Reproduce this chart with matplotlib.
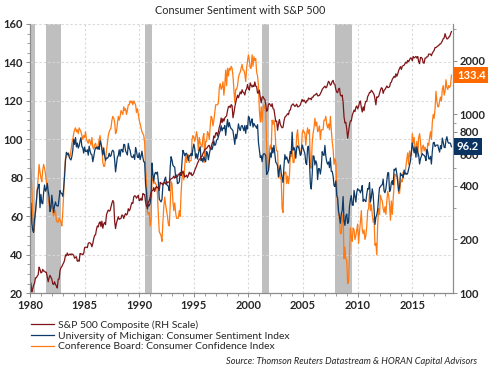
import numpy as np
import matplotlib
matplotlib.use('Agg')
import matplotlib.pyplot as plt
from matplotlib.ticker import MultipleLocator, FixedLocator, FixedFormatter, NullFormatter
from matplotlib.transforms import blended_transform_factory

plt.rcParams['font.family'] = ['Lato', 'DejaVu Sans']

START_YEAR = 1980

# monthly values, Jan 1980 - Aug 2018
umich = [
    67.0, 66.9, 56.5, 52.7, 51.7, 58.7, 62.3, 67.3, 73.7, 75.0, 76.7, 64.5,
    71.4, 66.9, 66.5, 72.4, 76.3, 73.1, 74.1, 77.2, 73.1, 70.3, 62.5, 64.3,
    71.0, 66.5, 62.0, 65.5, 67.5, 65.7, 65.4, 65.4, 69.3, 73.4, 72.1, 71.9,
    70.4, 74.6, 80.8, 89.1, 93.3, 92.2, 92.8, 90.9, 89.9, 89.3, 91.1, 94.2,
    100.1, 97.4, 101.0, 96.1, 98.1, 95.5, 96.6, 99.1, 100.9, 96.3, 95.7, 92.9,
    96.0, 93.7, 93.7, 94.6, 91.8, 96.5, 94.0, 92.4, 92.1, 88.4, 90.9, 93.9,
    95.6, 95.9, 95.1, 96.2, 94.8, 99.3, 97.7, 94.9, 91.9, 95.6, 91.4, 89.1,
    90.4, 90.2, 90.8, 92.8, 91.1, 91.5, 93.7, 94.4, 93.6, 89.3, 83.1, 86.8,
    90.8, 91.6, 94.6, 91.2, 94.8, 94.7, 93.4, 97.4, 97.3, 94.1, 93.0, 91.9,
    97.9, 95.4, 94.3, 91.5, 90.7, 90.6, 92.0, 89.6, 95.8, 93.9, 90.9, 90.5,
    93.0, 89.5, 91.3, 93.9, 90.6, 88.3, 88.2, 76.4, 72.8, 63.9, 66.0, 65.5,
    66.8, 70.4, 87.7, 81.8, 78.3, 82.1, 82.9, 82.0, 83.0, 78.3, 69.1, 68.2,
    67.5, 68.8, 76.0, 77.2, 79.2, 80.4, 76.6, 76.1, 75.6, 73.3, 85.3, 91.0,
    89.3, 86.6, 85.9, 85.6, 80.3, 81.5, 77.0, 77.3, 77.9, 82.7, 81.2, 88.2,
    94.3, 93.2, 91.5, 92.6, 92.8, 91.2, 89.0, 91.7, 91.5, 92.7, 91.6, 95.1,
    97.6, 95.1, 90.3, 92.5, 89.8, 92.7, 94.4, 96.2, 88.9, 90.2, 88.2, 91.0,
    89.3, 88.5, 93.7, 92.7, 89.4, 92.4, 94.7, 95.3, 94.7, 96.5, 99.2, 96.9,
    97.4, 99.7, 100.0, 101.4, 103.2, 104.5, 107.1, 104.4, 106.0, 105.6, 107.2, 102.1,
    106.6, 110.4, 106.5, 108.7, 106.5, 105.6, 105.2, 104.4, 100.9, 97.4, 102.7, 100.5,
    103.9, 108.1, 105.7, 104.6, 106.8, 107.3, 106.0, 104.5, 107.2, 103.2, 107.2, 105.4,
    112.0, 111.3, 107.1, 109.2, 110.7, 106.4, 108.3, 107.3, 106.8, 105.8, 107.6, 98.4,
    94.7, 90.6, 91.5, 88.4, 92.0, 92.6, 92.4, 91.5, 81.8, 82.7, 83.9, 88.8,
    93.0, 90.7, 95.7, 93.0, 96.9, 92.4, 88.1, 87.6, 86.1, 80.6, 84.2, 86.7,
    82.4, 79.9, 77.6, 86.0, 92.1, 89.7, 90.9, 89.3, 87.7, 89.6, 93.7, 92.6,
    103.8, 94.4, 95.8, 94.2, 90.2, 95.6, 96.7, 95.9, 94.2, 91.7, 92.8, 97.1,
    95.5, 94.1, 92.6, 87.7, 86.9, 96.0, 96.5, 89.1, 76.9, 74.2, 81.6, 91.5,
    91.2, 86.7, 88.9, 87.4, 79.1, 84.9, 84.7, 82.0, 85.4, 93.6, 92.1, 91.7,
    96.9, 91.3, 88.4, 87.1, 88.3, 85.3, 90.4, 83.4, 83.4, 80.9, 76.1, 75.5,
    78.4, 70.8, 69.5, 62.6, 59.8, 56.4, 61.2, 63.0, 70.3, 57.6, 55.3, 60.1,
    61.2, 56.3, 57.3, 65.1, 68.7, 70.8, 66.0, 65.7, 73.5, 70.6, 67.4, 72.5,
    74.4, 73.6, 73.6, 72.2, 73.6, 76.0, 67.8, 68.9, 68.2, 67.7, 71.6, 74.5,
    74.2, 77.5, 67.5, 69.8, 74.3, 71.5, 63.7, 55.8, 59.5, 60.8, 63.7, 69.9,
    75.0, 75.3, 76.2, 76.4, 79.3, 73.2, 72.3, 74.3, 78.3, 82.6, 82.7, 72.9,
    73.8, 77.6, 78.6, 76.4, 84.5, 84.1, 85.1, 82.1, 77.5, 73.2, 75.1, 82.5,
    81.2, 81.6, 80.0, 84.1, 81.9, 82.5, 81.8, 82.5, 84.6, 86.9, 88.8, 93.6,
    98.1, 95.4, 93.0, 95.9, 90.7, 96.1, 93.1, 91.9, 87.2, 90.0, 91.3, 92.6,
    92.0, 91.7, 91.0, 89.0, 94.7, 93.5, 90.0, 89.8, 91.2, 87.2, 93.8, 98.2,
    98.5, 96.3, 96.9, 97.0, 97.1, 95.0, 93.4, 96.8, 95.1, 100.7, 98.5, 95.9,
    95.7, 99.7, 101.4, 98.8, 98.0, 98.2, 97.9, 96.2,
]

conf_board = [
    87, 84, 74, 62, 52, 55, 62, 68, 74, 80, 87, 83,
    80, 78, 84, 87, 85, 82, 78, 74, 69, 66, 64, 66,
    65, 63, 60, 62, 63, 58, 57, 57, 59, 58, 57, 55,
    62, 72, 84, 90, 91, 92, 93, 92, 91, 94, 98, 100,
    103, 105, 106, 104, 105, 103, 106, 105, 104, 102, 100, 102,
    101, 104, 100, 99, 98, 100, 99, 97, 101, 96, 95, 97,
    98, 96, 95, 97, 100, 102, 98, 96, 88, 86, 86, 90,
    94, 98, 102, 104, 105, 106, 110, 112, 111, 109, 103, 104,
    108, 112, 110, 112, 115, 114, 113, 117, 115, 116, 113, 115,
    118, 118, 120, 119, 120, 118, 120, 119, 118, 114, 116, 113,
    110, 108, 106, 104, 103, 102, 98, 84, 78, 62, 61, 62,
    55, 58, 80, 80, 77, 78, 77, 76, 72, 61, 52, 51,
    50, 47, 57, 65, 70, 66, 63, 60, 56, 55, 65, 78,
    77, 68, 63, 67, 62, 59, 59, 59, 63, 60, 72, 80,
    82, 79, 86, 92, 88, 92, 92, 88, 89, 89, 100, 102,
    101, 99, 101, 104, 101, 94, 101, 98, 97, 96, 101, 103,
    88, 99, 99, 104, 103, 100, 107, 112, 111, 107, 110, 114,
    118, 118, 118, 119, 127, 129, 126, 127, 130, 123, 128, 136,
    128, 137, 133, 137, 136, 138, 137, 133, 126, 119, 126, 126,
    128, 132, 134, 135, 137, 139, 136, 136, 134, 130, 137, 141,
    144, 141, 137, 137, 144, 138, 143, 141, 142, 135, 133, 128,
    115, 109, 117, 109, 116, 118, 116, 114, 97, 85, 84, 94,
    97, 95, 110, 108, 110, 106, 97, 94, 94, 80, 84, 80,
    79, 64, 62, 81, 83, 83, 77, 81, 77, 81, 92, 91,
    97, 88, 88, 93, 93, 102, 105, 98, 96, 92, 92, 103,
    105, 104, 103, 97, 103, 106, 103, 105, 87, 85, 98, 103,
    106, 111, 107, 109, 104, 105, 107, 100, 105, 105, 105, 110,
    110, 112, 108, 106, 108, 105, 112, 105, 99, 95, 87, 90,
    88, 76, 65, 62, 58, 51, 51, 58, 61, 38, 44, 38,
    37, 25, 26, 40, 54, 49, 47, 54, 53, 48, 50, 53,
    56, 46, 52, 57, 63, 53, 51, 53, 48, 50, 55, 63,
    64, 72, 63, 66, 61, 57, 59, 45, 46, 40, 56, 64,
    61, 71, 69, 68, 64, 62, 65, 61, 68, 73, 71, 66,
    58, 68, 61, 69, 76, 82, 81, 81, 80, 72, 72, 77,
    79, 78, 83, 82, 82, 86, 90, 93, 87, 94, 91, 93,
    103, 98, 101, 95, 95, 99, 91, 101, 103, 99, 92, 96,
    97, 94, 96, 94, 92, 98, 97, 101, 104, 100, 109, 113,
    111, 116, 125, 120, 117, 117, 120, 122, 120, 126, 128, 123,
    125, 131, 127, 126, 128, 127, 128, 133.4,
]

sp500 = [
    114, 114, 102, 106, 111, 114, 122, 122, 125, 127, 140, 136,
    130, 131, 136, 133, 133, 131, 131, 123, 116, 122, 126, 123,
    120, 113, 112, 116, 112, 110, 107, 120, 120, 134, 139, 141,
    145, 148, 153, 164, 162, 168, 163, 164, 166, 164, 166, 165,
    163, 157, 159, 160, 151, 153, 151, 167, 166, 166, 164, 167,
    180, 181, 181, 180, 190, 192, 191, 189, 182, 190, 202, 211,
    212, 227, 238, 235, 247, 251, 236, 253, 231, 244, 249, 242,
    274, 284, 292, 288, 290, 304, 319, 330, 322, 252, 230, 247,
    257, 268, 259, 261, 262, 274, 272, 262, 272, 279, 274, 278,
    297, 289, 295, 310, 321, 318, 346, 351, 349, 340, 346, 353,
    329, 332, 340, 331, 361, 358, 356, 323, 306, 304, 322, 330,
    344, 367, 375, 375, 390, 371, 388, 395, 388, 392, 375, 417,
    409, 413, 404, 415, 415, 408, 424, 414, 418, 419, 431, 436,
    439, 443, 452, 440, 450, 451, 448, 464, 459, 468, 462, 466,
    482, 467, 446, 451, 457, 444, 458, 475, 463, 472, 454, 459,
    470, 487, 501, 515, 533, 545, 562, 562, 584, 582, 605, 616,
    636, 640, 646, 654, 669, 671, 640, 652, 687, 705, 757, 741,
    786, 791, 757, 801, 848, 885, 954, 899, 947, 915, 955, 970,
    980, 1049, 1102, 1112, 1091, 1134, 1121, 957, 1017, 1099, 1164, 1229,
    1280, 1238, 1286, 1335, 1302, 1373, 1329, 1320, 1283, 1363, 1389, 1469,
    1394, 1366, 1499, 1452, 1421, 1455, 1431, 1518, 1437, 1429, 1315, 1320,
    1366, 1240, 1160, 1249, 1256, 1224, 1211, 1134, 1041, 1060, 1139, 1148,
    1130, 1107, 1147, 1077, 1067, 990, 912, 916, 815, 886, 936, 880,
    856, 841, 848, 917, 964, 975, 990, 1008, 996, 1051, 1058, 1112,
    1131, 1145, 1126, 1107, 1121, 1141, 1102, 1104, 1115, 1130, 1174, 1212,
    1181, 1204, 1181, 1157, 1192, 1191, 1234, 1220, 1229, 1207, 1249, 1248,
    1280, 1281, 1295, 1311, 1270, 1270, 1277, 1304, 1336, 1378, 1401, 1418,
    1438, 1407, 1421, 1482, 1531, 1503, 1455, 1474, 1527, 1549, 1481, 1468,
    1379, 1331, 1323, 1386, 1400, 1280, 1267, 1283, 1165, 969, 896, 903,
    826, 735, 798, 873, 919, 919, 987, 1021, 1057, 1036, 1096, 1115,
    1074, 1104, 1169, 1187, 1089, 1031, 1102, 1049, 1141, 1183, 1181, 1258,
    1286, 1327, 1326, 1364, 1345, 1321, 1292, 1219, 1131, 1253, 1247, 1258,
    1312, 1366, 1408, 1398, 1310, 1362, 1379, 1407, 1441, 1412, 1416, 1426,
    1498, 1515, 1569, 1598, 1631, 1606, 1686, 1633, 1682, 1757, 1806, 1848,
    1783, 1859, 1872, 1884, 1924, 1960, 1931, 2003, 1972, 2018, 2068, 2059,
    1995, 2105, 2068, 2086, 2107, 2063, 2104, 1972, 1920, 2079, 2080, 2044,
    1940, 1932, 2060, 2065, 2097, 2099, 2174, 2171, 2168, 2126, 2199, 2239,
    2279, 2364, 2363, 2384, 2412, 2423, 2470, 2472, 2519, 2575, 2648, 2674,
    2824, 2714, 2641, 2648, 2705, 2718, 2816, 2902,
]

# recession periods (shaded)
recessions = [(1980.0, 1980.5), (1981.5, 1982.85), (1990.5, 1991.2),
              (2001.2, 2001.85), (2007.9, 2009.45)]

right_ticks = [100, 200, 400, 600, 800, 1000, 2000]
right_minor = [300, 500, 700, 900, 3000]

labels = ['S&P 500 Composite (RH Scale)',
          'University of Michigan: Consumer Sentiment Index',
          'Conference Board: Consumer Confidence Index']

RED = '#7f1518'
NAVY = '#0e3a68'
ORANGE = '#ff7a12'
TXT = '#262626'
SPINE = '#8c8c8c'

x = START_YEAR + np.arange(len(umich)) / 12.0

fig = plt.figure(figsize=(4.9, 3.68), dpi=100)
ax = fig.add_axes([0.0612, 0.203, 0.8627, 0.7318])

for a, b in recessions:
    ax.axvspan(a, b, color='#bfbfbf', lw=0, zorder=0)

l3, = ax.plot(x, conf_board, color=ORANGE, lw=0.9, zorder=2)
l2, = ax.plot(x, umich, color=NAVY, lw=0.9, zorder=3)

ax.set_xlim(1980, 2018.7)
ax.set_ylim(20, 160)
ax.xaxis.set_major_locator(MultipleLocator(5))
ax.xaxis.set_minor_locator(MultipleLocator(1))
ax.yaxis.set_major_locator(MultipleLocator(20))
ax.yaxis.set_minor_locator(MultipleLocator(5))
ax.grid(True, which='major', color='#d9d9d9', ls=(0, (2, 2)), lw=0.8)
ax.set_axisbelow(True)

ax2 = ax.twinx()
l1, = ax2.plot(x, sp500, color=RED, lw=0.9)
ax2.set_yscale('log')
ax2.set_ylim(100, 3200)
ax2.yaxis.set_major_locator(FixedLocator(right_ticks))
ax2.yaxis.set_major_formatter(FixedFormatter([str(t) for t in right_ticks]))
ax2.yaxis.set_minor_locator(FixedLocator(right_minor))
ax2.yaxis.set_minor_formatter(NullFormatter())

for a in (ax, ax2):
    a.spines['top'].set_visible(False)
    for s in ('left', 'right', 'bottom'):
        a.spines[s].set_color(SPINE)
        a.spines[s].set_linewidth(0.8)
    a.tick_params(which='major', direction='out', length=3, width=0.7, color=SPINE,
                  labelsize=8, labelcolor=TXT, pad=2)
    a.tick_params(which='minor', direction='out', length=2, width=0.6, color=SPINE)
    for t in a.get_xticklabels() + a.get_yticklabels():
        t.set_fontweight('bold')

# end-value boxes on the right
tr = blended_transform_factory(ax2.transAxes, ax.transData)
ax2.annotate('133.4', xy=(1.0, conf_board[-1]), xycoords=tr, xytext=(3, 0),
             textcoords='offset points', ha='left', va='center', color='white',
             fontsize=8, fontweight='bold', annotation_clip=False, zorder=10,
             bbox=dict(boxstyle='square,pad=0.25', fc='#ff6a00', ec='none'))
ax2.annotate('96.2', xy=(1.0, umich[-1]), xycoords=tr, xytext=(3, 0),
             textcoords='offset points', ha='left', va='center', color='white',
             fontsize=8, fontweight='bold', annotation_clip=False, zorder=10,
             bbox=dict(boxstyle='square,pad=0.25', fc='#0b3361', ec='none'))

fig.text(0.49, 0.972, 'Consumer Sentiment with S&P 500', ha='center', va='center',
         fontsize=7.8, color=TXT)

fig.legend([l1, l2, l3], labels, loc='upper left', bbox_to_anchor=(0.064, 0.129),
           frameon=False, fontsize=7.5, handlelength=2.2, handletextpad=0.4,
           labelspacing=0.12, borderaxespad=0, borderpad=0, labelcolor=TXT)

fig.text(0.974, 0.017, 'Source: Thomson Reuters Datastream & HORAN Capital Advisors',
         ha='right', va='center', fontsize=6.7, style='italic', color=TXT)

fig.savefig('out.png', dpi=100)
